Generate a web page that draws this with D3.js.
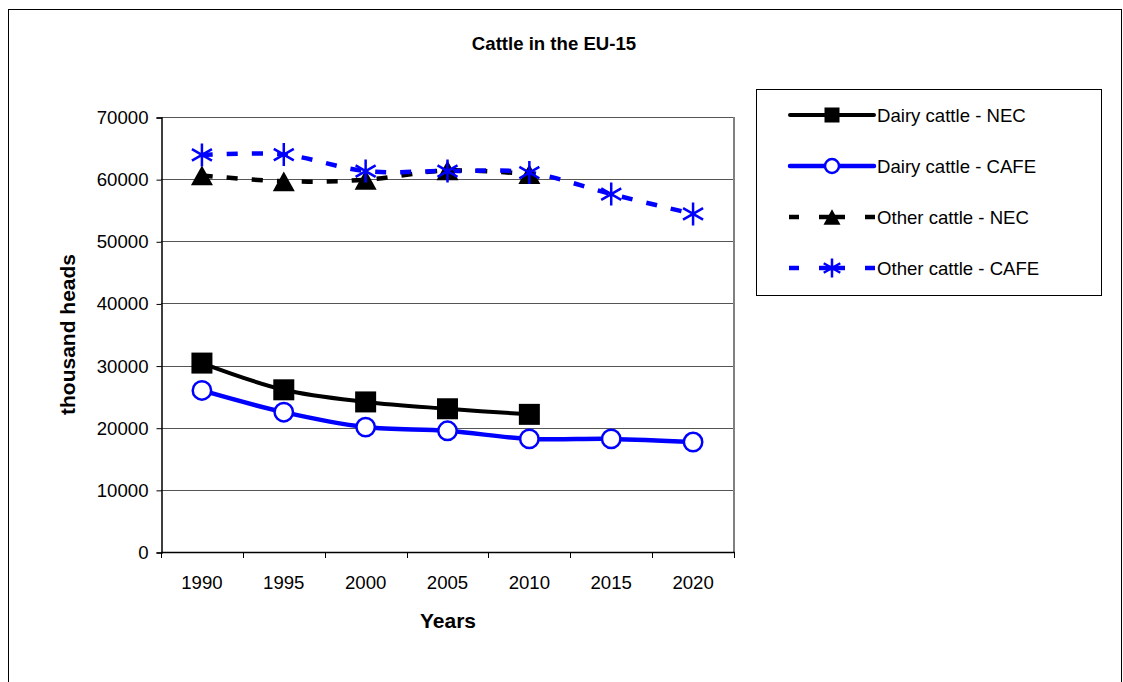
<!DOCTYPE html>
<html>
<head>
<meta charset="utf-8">
<script src="https://cdn.jsdelivr.net/npm/d3@7"></script>
<style>
  html, body { margin: 0; padding: 0; background: #fff; }
  svg { display: block; font-family: "Liberation Sans", Arial, sans-serif; }
</style>
</head>
<body>
<svg id="chart" width="1123" height="682"></svg>
<script>
// Categories and series (thousand heads)
const years = ["1990", "1995", "2000", "2005", "2010", "2015", "2020"];
const dairyNEC  = [30400, 26100, 24150, 23050, 22150, null, null];
const dairyCAFE = [26000, 22500, 20100, 19500, 18200, 18200, 17700];
const otherNEC  = [60600, 59650, 59900, 61400, 60800, null, null];
const otherCAFE = [63900, 63950, 61300, 61300, 61050, 57600, 54400];
const yTicks = [0, 10000, 20000, 30000, 40000, 50000, 60000, 70000];

const seriesNames = ["Dairy cattle - NEC", "Dairy cattle - CAFE", "Other cattle - NEC", "Other cattle - CAFE"];

const svg = d3.select("#chart");
const FONT = 18.6;
const AXIS_TITLE = 21;

// outer chart frame
svg.append("rect")
  .attr("x", 8.5).attr("y", 9.5)
  .attr("width", 1113).attr("height", 700)
  .attr("fill", "none").attr("stroke", "#000").attr("stroke-width", 1);

const plot = { left: 161, right: 734, top: 117, bottom: 552 };

const x = d3.scaleBand().domain(years).range([plot.left, plot.right]).padding(0);
const y = d3.scaleLinear().domain([0, 70000]).range([plot.bottom, plot.top]);
const cx = d => x(d) + x.bandwidth() / 2;

// gridlines
svg.append("g").selectAll("line")
  .data(yTicks.filter(t => t > 0))
  .join("line")
  .attr("x1", plot.left).attr("x2", plot.right)
  .attr("y1", d => Math.round(y(d)) + 0.5).attr("y2", d => Math.round(y(d)) + 0.5)
  .attr("stroke", "#555").attr("stroke-width", 1);

// plot area right border
svg.append("line")
  .attr("x1", plot.right).attr("x2", plot.right)
  .attr("y1", plot.top).attr("y2", plot.bottom)
  .attr("stroke", "#808080").attr("stroke-width", 2);

// y axis
const yAxis = svg.append("g")
  .attr("transform", `translate(${plot.left + 0.5},0.5)`)
  .call(d3.axisLeft(y).tickValues(yTicks).tickSize(5).tickPadding(8).tickFormat(d3.format("d")));
yAxis.select(".domain").attr("stroke", "#000").attr("stroke-width", 1.5);
yAxis.selectAll(".tick line").attr("stroke", "#000");
yAxis.selectAll("text").attr("font-size", FONT).attr("fill", "#000").attr("font-family", "Liberation Sans, Arial, sans-serif");

// x axis: labels at category centres, ticks at category boundaries
const xAxis = svg.append("g")
  .attr("transform", `translate(0,${plot.bottom + 0.5})`)
  .call(d3.axisBottom(x).tickSize(0).tickPadding(23));
xAxis.select(".domain").remove();
xAxis.selectAll("text").attr("font-size", FONT).attr("fill", "#000").attr("font-family", "Liberation Sans, Arial, sans-serif");

svg.append("line")
  .attr("x1", plot.left).attr("x2", plot.right + 1)
  .attr("y1", plot.bottom + 0.5).attr("y2", plot.bottom + 0.5)
  .attr("stroke", "#000").attr("stroke-width", 1.5);

const boundaries = years.map(d => x(d)).concat([plot.right]);
svg.append("g").selectAll("line")
  .data(boundaries)
  .join("line")
  .attr("x1", d => Math.round(d) + 0.5).attr("x2", d => Math.round(d) + 0.5)
  .attr("y1", plot.bottom).attr("y2", plot.bottom + 6)
  .attr("stroke", "#000").attr("stroke-width", 1);

// titles
svg.append("text")
  .attr("x", 554).attr("y", 50)
  .attr("text-anchor", "middle")
  .attr("font-size", FONT).attr("font-weight", "bold")
  .text("Cattle in the EU-15");

svg.append("text")
  .attr("x", 448).attr("y", 628)
  .attr("text-anchor", "middle")
  .attr("font-size", AXIS_TITLE).attr("font-weight", "bold")
  .text("Years");

svg.append("text")
  .attr("transform", `translate(75,${(plot.top + plot.bottom) / 2}) rotate(-90)`)
  .attr("text-anchor", "middle")
  .attr("font-size", AXIS_TITLE).attr("font-weight", "bold")
  .text("thousand heads");

// marker drawers
function drawSquare(g, px, py, s) {
  g.append("rect").attr("x", px - s / 2).attr("y", py - s / 2)
    .attr("width", s).attr("height", s).attr("fill", "#000");
}
function drawCircle(g, px, py, r) {
  g.append("circle").attr("cx", px).attr("cy", py).attr("r", r)
    .attr("fill", "#fff").attr("stroke", "#0000ff").attr("stroke-width", 2.5);
}
function drawTriangle(g, px, py, s) {
  const h = s * 0.9;
  g.append("path")
    .attr("d", `M${px},${py - h / 2}L${px + s / 2},${py + h / 2}L${px - s / 2},${py + h / 2}Z`)
    .attr("fill", "#000");
}
function drawStar(g, px, py, s) {
  const r = s / 2;
  const d = r * 0.87;
  g.append("path")
    .attr("d", `M${px},${py - r}L${px},${py + r}M${px - d},${py - r / 2}L${px + d},${py + r / 2}M${px - d},${py + r / 2}L${px + d},${py - r / 2}`)
    .attr("fill", "none").attr("stroke", "#0000ff").attr("stroke-width", 2.5);
}

const series = [
  { name: seriesNames[0], values: dairyNEC,  color: "#000",    width: 4,   dash: null,    marker: (g, a, b) => drawSquare(g, a, b, 21) },
  { name: seriesNames[1], values: dairyCAFE, color: "#0000ff", width: 4.5, dash: null,    marker: (g, a, b) => drawCircle(g, a, b, 9.2) },
  { name: seriesNames[2], values: otherNEC,  color: "#000",    width: 4.5, dash: "11,14", marker: (g, a, b) => drawTriangle(g, a, b, 22) },
  { name: seriesNames[3], values: otherCAFE, color: "#0000ff", width: 4.5, dash: "11,14", marker: (g, a, b) => drawStar(g, a, b, 23) }
];

const line = d3.line()
  .defined(d => d.v != null)
  .x(d => cx(d.year))
  .y(d => y(d.v))
  .curve(d3.curveCardinal.tension(0));

const linesG = svg.append("g");
const markersG = svg.append("g");

series.forEach(s => {
  const pts = years.map((yr, i) => ({ year: yr, v: s.values[i] }));
  linesG.append("path")
    .datum(pts)
    .attr("d", line)
    .attr("fill", "none")
    .attr("stroke", s.color)
    .attr("stroke-width", s.width)
    .attr("stroke-dasharray", s.dash);
  const mg = markersG.append("g");
  pts.filter(p => p.v != null).forEach(p => s.marker(mg, cx(p.year), y(p.v)));
});

// legend
const leg = { left: 756, top: 89, right: 1101, bottom: 295 };
svg.append("rect")
  .attr("x", leg.left + 0.5).attr("y", leg.top + 0.5)
  .attr("width", leg.right - leg.left).attr("height", leg.bottom - leg.top)
  .attr("fill", "#fff").attr("stroke", "#000").attr("stroke-width", 1);

const rowY = i => 115 + i * 51;
series.forEach((s, i) => {
  const g = svg.append("g");
  const ly = rowY(i);
  if (s.dash) {
    // dashed sample: short dashes either side of the marker
    [[789, 799], [819, 845], [865, 875]].forEach(([a, b]) => {
      g.append("line").attr("x1", a).attr("x2", b).attr("y1", ly).attr("y2", ly)
        .attr("stroke", s.color).attr("stroke-width", s.width);
    });
  } else {
    g.append("line").attr("x1", 790).attr("x2", 874).attr("y1", ly).attr("y2", ly)
      .attr("stroke", s.color).attr("stroke-width", s.width).attr("stroke-linecap", "round");
  }
  if (i === 0) drawSquare(g, 832, ly, 15);
  if (i === 1) drawCircle(g, 832, ly, 7);
  if (i === 2) drawTriangle(g, 832, ly, 17);
  if (i === 3) drawStar(g, 832, ly, 19);
  g.append("text")
    .attr("x", 877).attr("y", ly)
    .attr("dy", "0.35em")
    .attr("font-size", FONT)
    .text(s.name);
});
</script>
</body>
</html>
